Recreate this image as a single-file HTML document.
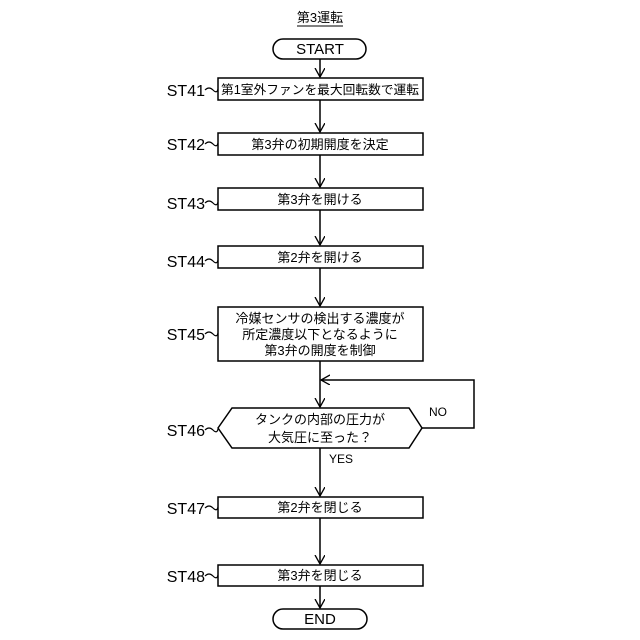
<!DOCTYPE html>
<html><head><meta charset="utf-8"><style>body{margin:0;background:#fff}svg{display:block}</style></head><body>
<svg width="640" height="640" viewBox="0 0 640 640" xmlns="http://www.w3.org/2000/svg">
<defs><marker id="a" markerWidth="12" markerHeight="12" refX="9" refY="5" orient="auto" markerUnits="userSpaceOnUse"><path d="M0,0 L9,5 L0,10" fill="none" stroke="#000" stroke-width="1.3"/></marker></defs>
<g font-family="Liberation Sans, Noto Sans CJK JP, sans-serif" fill="#000">
<text x="320" y="22" font-size="13" text-anchor="middle">第3運転</text>
<line x1="297" y1="26" x2="343" y2="26" stroke="#000" stroke-width="1"/>
</g>
<g stroke="#000" stroke-width="1.5" fill="none">
<rect x="273" y="39" width="93" height="20" rx="10"/>
<rect x="273" y="609" width="94" height="20" rx="10"/>
<rect x="218" y="78" width="205" height="22"/>
<rect x="218" y="133" width="205" height="22"/>
<rect x="218" y="188" width="205" height="22"/>
<rect x="218" y="246" width="205" height="22"/>
<rect x="218" y="307" width="205" height="54"/>
<polygon points="218,428 232,408 409,408 422,428 409,448 232,448"/>
<rect x="218" y="497" width="205" height="21"/>
<rect x="218" y="565" width="205" height="21"/>
<g marker-end="url(#a)">
<line x1="320" y1="59" x2="320" y2="77"/>
<line x1="320" y1="100" x2="320" y2="132"/>
<line x1="320" y1="155" x2="320" y2="187"/>
<line x1="320" y1="210" x2="320" y2="245"/>
<line x1="320" y1="268" x2="320" y2="306"/>
<line x1="320" y1="361" x2="320" y2="407"/>
<line x1="320" y1="448" x2="320" y2="496"/>
<line x1="320" y1="518" x2="320" y2="564"/>
<line x1="320" y1="586" x2="320" y2="608"/>
<polyline points="422,428 474,428 474,380 321,380"/>
</g>
<g stroke-width="1.2">
<path d="M205,90 q4,-4 8,0 t5,-1"/>
<path d="M205,144 q4,-4 8,0 t5,-1"/>
<path d="M205,203 q4,-4 8,0 t5,-1"/>
<path d="M205,261 q4,-4 8,0 t5,-1"/>
<path d="M205,334 q4,-4 8,0 t5,-1"/>
<path d="M205,430 q4,-4 8,0 t5,-1"/>
<path d="M205,508 q4,-4 8,0 t5,-1"/>
<path d="M205,576 q4,-4 8,0 t5,-1"/>
</g>
</g>
<g font-family="Liberation Sans, Noto Sans CJK JP, sans-serif" fill="#000" font-size="13" text-anchor="middle">
<text x="320" y="54" font-size="15">START</text>
<text x="320" y="624" font-size="15">END</text>
<text x="320" y="94" font-size="12.5" textLength="198" lengthAdjust="spacingAndGlyphs">第1室外ファンを最大回転数で運転</text>
<text x="320" y="149">第3弁の初期開度を決定</text>
<text x="320" y="204">第3弁を開ける</text>
<text x="320" y="262">第2弁を開ける</text>
<text x="320" y="323">冷媒センサの検出する濃度が</text>
<text x="320" y="339">所定濃度以下となるように</text>
<text x="320" y="355">第3弁の開度を制御</text>
<text x="320" y="424">タンクの内部の圧力が</text>
<text x="320" y="442">大気圧に至った？</text>
<text x="320" y="512">第2弁を閉じる</text>
<text x="320" y="580">第3弁を閉じる</text>
<text x="438" y="416" font-size="12">NO</text>
<text x="341" y="463" font-size="12">YES</text>
</g>
<g font-family="Liberation Sans, sans-serif" fill="#000" font-size="16" text-anchor="end">
<text x="205" y="96">ST41</text>
<text x="205" y="150">ST42</text>
<text x="205" y="209">ST43</text>
<text x="205" y="267">ST44</text>
<text x="205" y="340">ST45</text>
<text x="205" y="436">ST46</text>
<text x="205" y="514">ST47</text>
<text x="205" y="582">ST48</text>
</g>
</svg>
</body></html>
